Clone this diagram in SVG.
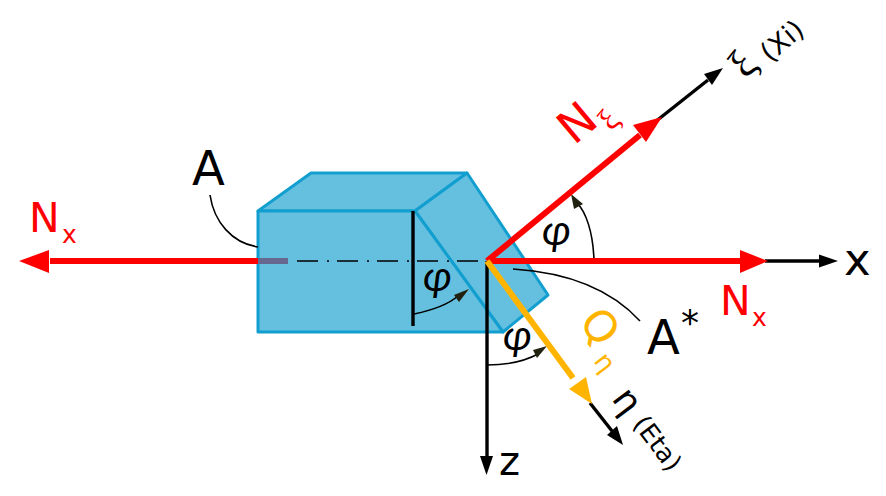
<svg xmlns="http://www.w3.org/2000/svg" width="886" height="496" viewBox="0 0 886 496">
<style>
text{font-family:"DejaVu Sans",sans-serif}
.face{fill:#65c0e0;stroke:#129fcf;stroke-width:3;stroke-linejoin:round}
.thin{fill:none;stroke:#000;stroke-width:1.6}
.k{fill:none;stroke:#000;stroke-width:3.4}
.r{fill:none;stroke:#f00;stroke-width:6}
.rf{fill:#f00}.kf{fill:#000}.of{fill:#ffb400}.af{fill:#222210}
.big{font-size:48px;fill:#000}
.nx{font-size:41px;fill:#f00}
.sub{font-size:25px;fill:#f00}
.xi{font-family:"Liberation Serif",serif}
.phi{font-family:"Lato",sans-serif;font-style:italic;font-size:42px;fill:#000}
</style>
<g id="block">
<polygon class="face" points="258,211 311,173 467,173 415,211"/>
<polygon class="face" points="415,211 467,173 548,295 503,332"/>
<polygon class="face" points="258,211 415,211 503,332 258,332"/>
</g>
<g id="connectors">
<path class="thin" d="M210,195C214,222 232,243 258,247"/>
<path class="thin" d="M513,269C560,272 608,286 640,321"/>
<path d="M297,261H487" fill="none" stroke="#000" stroke-width="1.3" stroke-dasharray="21 9 2 8"/>
<path class="k" d="M413,211V326"/>
<path class="thin" d="M414,314C433,310 450,303 458,296"/>
<polygon class="af" points="469,289 454,295 459,302"/>
<path class="thin" d="M594,260C593,232 586,212 577,203"/>
<polygon class="af" points="571,194 574,209 583,204"/>
<path class="thin" d="M487,365C508,365 525,361 538,354"/>
<polygon class="af" points="547,346 533,350 537,358"/>
<path class="k" d="M487,261V458"/>
<polygon class="kf" points="486.500,475 480,456 493,456"/>
<path class="k" d="M765,261H822"/>
<polygon class="kf" points="838,261 819,254.500 819,267.500"/>
<path class="k" d="M655,122L708,80"/>
<polygon class="kf" points="723,68 712,85 704,74"/>
<path class="k" d="M590,403L612,431"/>
<polygon class="kf" points="623,445 607,435 617,426"/>
<path class="r" d="M50,261H258"/>
<polygon class="rf" points="19,261 49,250 49,273"/>
<rect x="258" y="258" width="30" height="6" fill="#66688f"/>
<path class="r" d="M487,261H745"/>
<polygon class="rf" points="768,261 740,250 740,273"/>
<path class="r" d="M487,261L640,135"/>
<polygon class="rf" points="662,117 633,125 646,142"/>
<path d="M487,261L573,378" fill="none" stroke="#ffb400" stroke-width="6"/>
<polygon class="of" points="592,404 569,389 586,377"/>
</g>
<g id="labels">
<text class="big" x="192" y="185">A</text>
<text class="big" x="647" y="354">A</text>
<text x="681" y="335" font-size="36" fill="#000">*</text>
<text x="844" y="275" font-size="45" fill="#000">x</text>
<text x="499" y="475" font-size="40" fill="#000">z</text>
<text class="nx" x="29" y="232">N</text><text class="sub" x="62" y="243">x</text>
<text class="nx" x="720" y="315">N</text><text class="sub" x="752" y="326">x</text>
<text class="nx" style="font-size:46px" transform="translate(574,146) rotate(-40)">N</text>
<text class="sub xi" transform="translate(612,132) rotate(-50)" style="font-size:32px">ξ</text>
<text class="xi" transform="translate(747,80) rotate(-50)" font-size="42" fill="#000">ξ</text>
<text transform="translate(770,63) rotate(-40)" font-size="27" fill="#000">(Xi)</text>
<text transform="translate(578,322) rotate(53)" font-size="43" fill="#ffb400">Q</text>
<text transform="translate(593,361) rotate(53)" font-size="26" fill="#ffb400">η</text>
<text transform="translate(611,399) rotate(53)" font-size="36" fill="#000">η</text>
<text transform="translate(632,424) rotate(53)" font-size="25.500" fill="#000">(Eta)</text>
<text class="phi" x="423" y="291">φ</text>
<text class="phi" x="542" y="245">φ</text>
<text class="phi" x="503" y="350">φ</text>
</g>
</svg>
